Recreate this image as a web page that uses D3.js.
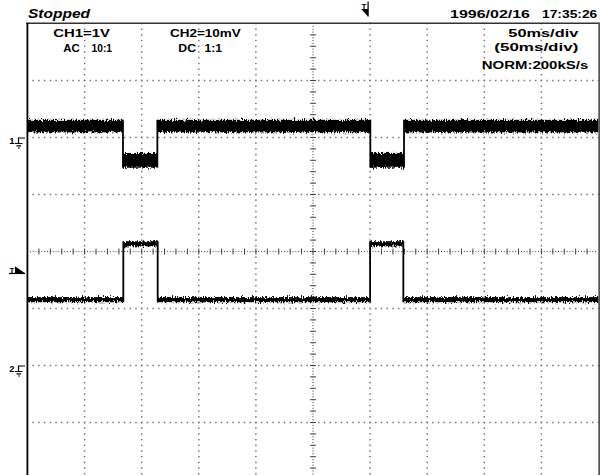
<!DOCTYPE html>
<html><head><meta charset="utf-8">
<script src="https://cdn.jsdelivr.net/npm/d3@7"></script>
<style>
html,body{margin:0;padding:0;background:#fff;}
svg{display:block;}
text{font-family:"Liberation Sans",Arial,sans-serif;fill:#000;}
</style></head>
<body>
<script>
// ---------- data ----------
// Time axis: 50 ms/div, 10 divisions
const timeTicksMs = [50, 100, 150, 200, 250, 300, 350, 400, 450];
const vertDivTicks = [-3, -2, -1, 0, 1, 2, 3];
// CH1 (1 V/div, AC, ground marker at +2 div): noise band per segment (V)
const ch1EdgesMs = [0, 83.6, 113.7, 300.2, 329.7, 500];
const ch1Upper = [0.31, -0.27, 0.31, -0.27, 0.31];
const ch1Lower = [0.09, -0.53, 0.09, -0.53, 0.09];
// CH2 (10 mV/div, DC, ground marker at -2 div): noise band per segment (mV)
const ch2EdgesMs = [0, 83.9, 114.0, 300.0, 329.1, 500];
const ch2Upper = [12.0, 21.8, 12.0, 21.8, 12.0];
const ch2Lower = [11.1, 20.9, 11.1, 20.9, 11.1];
const triggerTimeMs = 300;
const triggerLevelMv = 16.2;
// header texts
const statusText = "Stopped";
const ch1Labels = ["CH1=1V", "AC", "10:1"];
const ch2Labels = ["CH2=10mV", "DC", "1:1"];
const timebaseLabels = ["50ms/div", "(50ms/div)", "NORM:200kS/s"];
const dateLabels = ["1996/02/16", "17:35:26"];

// ---------- layout ----------
const W = 602, H = 475;
const L = 27.5, R = 598.5, T = 23.5, B = 479.5;
const svg = d3.select("body").append("svg").attr("width", W).attr("height", H);

const x = d3.scaleLinear().domain([0, 500]).range([L, R]);
const yDiv = d3.scaleLinear().domain([-4, 4]).range([B, T]);
const y1 = d3.scaleLinear().domain([-6, 2]).range([B, T]);      // CH1 volts
const y2 = d3.scaleLinear().domain([-20, 60]).range([B, T]);    // CH2 mV

// ragged-edge filter (vertical jitter only) to mimic sampled noise
const defs = svg.append("defs");
const f = defs.append("filter").attr("id", "noisy")
  .attr("filterUnits", "userSpaceOnUse").attr("x", 0).attr("y", 0)
  .attr("width", W).attr("height", H)
  .attr("color-interpolation-filters", "sRGB");
f.append("feTurbulence").attr("type", "fractalNoise")
  .attr("baseFrequency", "0.9 0.35").attr("numOctaves", 2).attr("seed", 7).attr("result", "turb");
f.append("feColorMatrix").attr("in", "turb").attr("type", "matrix")
  .attr("values", "0 0 0 0 0.5  0 1 0 0 0  0 0 0 0 0  0 0 0 0 1").attr("result", "disp");
f.append("feDisplacementMap").attr("in", "SourceGraphic").attr("in2", "disp")
  .attr("scale", 7).attr("xChannelSelector", "R").attr("yChannelSelector", "G");

// ---------- grid dots ----------
const g = svg.append("g");
const fineDiv = d3.range(-40, 41).map(d => d / 10);
const fineTime = d3.range(0, 101).map(d => d * 5);
timeTicksMs.forEach(t => {
  if (t === 250) return;
  g.selectAll(null).data(fineDiv).join("rect")
    .attr("x", x(t) - 0.75).attr("y", d => yDiv(d) - 0.75)
    .attr("width", 1.5).attr("height", 1.5).attr("fill", "#777");
});
vertDivTicks.forEach(v => {
  if (v === 0) return;
  g.selectAll(null).data(fineTime.filter(t => t > 2)).join("rect")
    .attr("x", d => x(d) - 0.75).attr("y", yDiv(v) - 0.75)
    .attr("width", 1.5).attr("height", 1.5).attr("fill", "#777");
});
// centre axes with dense dots and minor ticks
const denseDiv = d3.range(-80, 81).map(d => d / 20);
const denseTime = d3.range(1, 200).map(d => d * 2.5);
g.selectAll(null).data(denseDiv).join("rect")
  .attr("x", x(250) - 0.6).attr("y", d => yDiv(d) - 0.5)
  .attr("width", 1.2).attr("height", 1).attr("fill", "#555");
g.selectAll(null).data(denseTime).join("rect")
  .attr("x", d => x(d) - 0.5).attr("y", yDiv(0) - 0.6)
  .attr("width", 1).attr("height", 1.2).attr("fill", "#555");
const minorDiv = d3.range(-20, 21).map(d => d / 5);
const minorTime = d3.range(1, 50).map(d => d * 10);
g.selectAll(null).data(minorDiv).join("line")
  .attr("x1", x(250) - 3).attr("x2", x(250) + 3)
  .attr("y1", d => yDiv(d)).attr("y2", d => yDiv(d))
  .attr("stroke", "#444").attr("stroke-width", 1);
g.selectAll(null).data(minorTime).join("line")
  .attr("x1", d => x(d)).attr("x2", d => x(d))
  .attr("y1", yDiv(0) - 3).attr("y2", yDiv(0) + 3)
  .attr("stroke", "#444").attr("stroke-width", 1);

// ---------- traces ----------
function drawTrace(edges, upper, lower, yS) {
  const segs = upper.map((u, i) => ({t0: edges[i], t1: edges[i + 1], u, l: lower[i]}));
  const tg = svg.append("g");
  tg.append("g").attr("filter", "url(#noisy)")
    .selectAll(null).data(segs).join("rect")
    .attr("x", d => x(d.t0)).attr("width", d => x(d.t1) - x(d.t0))
    .attr("y", d => yS(d.u)).attr("height", d => yS(d.l) - yS(d.u))
    .attr("fill", "#000");
  const trans = segs.slice(1).map((d, i) => ({
    t: d.t0,
    top: Math.max(segs[i].u, d.u), bot: Math.min(segs[i].l, d.l)
  }));
  tg.selectAll(null).data(trans).join("line")
    .attr("x1", d => x(d.t)).attr("x2", d => x(d.t))
    .attr("y1", d => yS(d.top)).attr("y2", d => yS(d.bot))
    .attr("stroke", "#000").attr("stroke-width", 1.8);
}
drawTrace(ch1EdgesMs, ch1Upper, ch1Lower, y1);
drawTrace(ch2EdgesMs, ch2Upper, ch2Lower, y2);

// ---------- frame ----------
svg.append("rect").attr("x", 0).attr("y", 23.5).attr("width", 26.5).attr("height", H).attr("fill", "#fff");
svg.append("line").attr("x1", 26).attr("x2", 600).attr("y1", 23.2).attr("y2", 23.2)
  .attr("stroke", "#333").attr("stroke-width", 1.6);
svg.append("rect").attr("x", 26.5).attr("y", 23).attr("width", 1.8).attr("height", H - 23).attr("fill", "#000");
svg.append("rect").attr("x", 598.3).attr("y", 23).attr("width", 1.8).attr("height", H - 23).attr("fill", "#555");
svg.append("rect").attr("x", 600.1).attr("y", 0).attr("width", 2).attr("height", H).attr("fill", "#fff");

// ---------- header text ----------
function txt(s, xx, yy, w, opts = {}) {
  const t = svg.append("text").attr("x", xx).attr("y", yy).text(s)
    .attr("font-size", opts.size || 11.5).attr("font-weight", "bold");
  if (opts.italic) t.attr("font-style", "italic");
  if (w) t.attr("textLength", w).attr("lengthAdjust", "spacingAndGlyphs");
  return t;
}
txt(statusText, 28, 18.3, 62, {size: 13, italic: true});
txt(ch1Labels[0], 53.3, 36.7, 56.7);
txt(ch1Labels[1], 63.3, 51.7, 16.5);
txt(ch1Labels[2], 91.5, 51.7, 20.5);
txt(ch2Labels[0], 170, 36.7, 70.7);
txt(ch2Labels[1], 178.3, 51.7, 17.7);
txt(ch2Labels[2], 204.5, 51.7, 17.5);
txt(timebaseLabels[0], 508.3, 36.7, 70);
txt(timebaseLabels[1], 494.3, 51.3, 84);
txt(timebaseLabels[2], 481.7, 68.8, 106.6);
txt(dateLabels[0], 450, 18.3, 80);
txt(dateLabels[1], 542, 18.3, 55.3);

// ---------- channel / trigger markers ----------
function groundMarker(label, gy) {
  svg.append("text").attr("x", 9.3).attr("y", gy + 6.6).text(label)
    .attr("font-size", 9.5).attr("font-weight", "bold");
  const p = d3.path();
  p.moveTo(25, gy + 0.5); p.lineTo(18.5, gy + 0.5); p.lineTo(18.5, gy + 6);
  p.moveTo(15, gy + 6); p.lineTo(22.5, gy + 6);
  p.moveTo(16.5, gy + 8.3); p.lineTo(21, gy + 8.3);
  p.moveTo(18, gy + 10.5); p.lineTo(19.8, gy + 10.5);
  svg.append("path").attr("d", p.toString()).attr("fill", "none")
    .attr("stroke", "#000").attr("stroke-width", 1.2);
}
groundMarker("1", y1(0));
groundMarker("2", y2(0));

// trigger level marker (left)
const tl = y2(triggerLevelMv);
svg.append("text").attr("x", 9.5).attr("y", tl).text("T")
  .attr("font-size", 8).attr("font-weight", "bold");
svg.append("path").attr("d", d3.line()([[15, tl - 7], [15, tl], [25, tl]]) + "Z").attr("fill", "#000");
svg.append("line").attr("x1", 9).attr("x2", 25).attr("y1", tl + 0.3).attr("y2", tl + 0.3)
  .attr("stroke", "#000").attr("stroke-width", 1.2);

// trigger position marker (top)
const tx = x(triggerTimeMs) - 2;
svg.append("text").attr("x", tx - 6.5).attr("y", 8.5).text("T")
  .attr("font-size", 8).attr("font-weight", "bold");
svg.append("path").attr("d", d3.line()([[tx - 7, 9], [tx, 9], [tx, 16.5]]) + "Z").attr("fill", "#000");
svg.append("line").attr("x1", tx).attr("x2", tx).attr("y1", 1.5).attr("y2", 16.5)
  .attr("stroke", "#000").attr("stroke-width", 1.2);
</script>
</body></html>
